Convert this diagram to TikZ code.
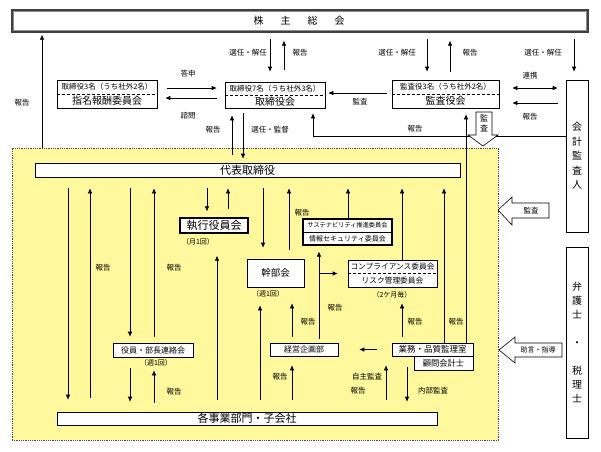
\documentclass[tikz,border=0pt]{standalone}
\usepackage{fontspec}
\newfontfamily\cjk{Noto Sans CJK JP}
\usetikzlibrary{arrows.meta,calc}
\definecolor{yelbg}{RGB}{255,248,156}
\newcommand\fs[2][0]{\cjk\fontsize{#2}{#2}\selectfont}
\begin{document}
\begin{tikzpicture}[x=1pt,y=-1pt,
  every node/.style={inner sep=0pt, font=\fs{7.5}},
  box/.style={draw, fill=white, line width=0.6pt, inner sep=0pt},
  arr/.style={line width=0.6pt, -{Latex[length=5pt,width=4.5pt]}},
  dbl/.style={line width=0.6pt, {Latex[length=5pt,width=4.5pt]}-{Latex[length=5pt,width=4.5pt]}},
  ln/.style={line width=0.6pt},
  sep/.style={line width=0.5pt, densely dashed},
  lbl/.style={font=\fs{7.5}},
  blockarr/.style={draw, fill=white, line width=0.6pt}
]
\useasboundingbox (0,0) rectangle (601,451);

% shareholders meeting
\node[minimum width=576pt, minimum height=22pt, draw=black!75, line width=1.3pt, fill=white] (sokai) at (300,21) {};
\draw[black!45, line width=0.4pt] ([shift={(2.2pt,-2.2pt)}]sokai.north west) rectangle ([shift={(-2.2pt,2.2pt)}]sokai.south east);
\node[font=\fs{10}] (sokaiT) at (299,21) {株\hspace{17pt}主\hspace{17pt}総\hspace{17pt}会};

% yellow area
\node[draw=black!70, densely dotted, line width=0.8pt, fill=yelbg, minimum width=486pt, minimum height=292pt] (area) at (255,294) {};

% top boxes
\node[box, minimum width=100pt, minimum height=28pt] (shimei) at (107,94) {};
\draw[sep] (shimei.west) -- (shimei.east);
\node (shimeiU) at ([yshift=7pt]shimei.center) {取締役3名（うち社外2名）};
\node[font=\fs{10}] (shimeiL) at ([yshift=-7pt]shimei.center) {指名報酬委員会};

\node[box, minimum width=100pt, minimum height=26pt] (tori) at (275,95) {};
\draw[sep] (tori.west) -- (tori.east);
\node (toriU) at ([yshift=6.5pt]tori.center) {取締役7名（うち社外3名）};
\node[font=\fs{10}] (toriL) at ([yshift=-6.5pt]tori.center) {取締役会};

\node[box, minimum width=107pt, minimum height=28pt] (kansa) at (445.5,94) {};
\draw[sep] (kansa.west) -- (kansa.east);
\node (kansaU) at ([yshift=7pt]kansa.center) {監査役3名（うち社外2名）};
\node[font=\fs{10}] (kansaL) at ([yshift=-7pt]kansa.center) {監査役会};

\node[box, minimum width=22pt, minimum height=152pt, align=center, font=\cjk\fontsize{10}{14.5}\selectfont] (kaikei) at (577,156) {会\\計\\監\\査\\人};
\node[box, minimum width=22pt, minimum height=191pt, align=center, font=\cjk\fontsize{10}{14}\selectfont] (bengo) at (577,342.5) {弁\\護\\士\\[14pt]・\\[14pt]税\\理\\士};

% inner boxes
\node[box, minimum width=425pt, minimum height=14pt, font=\fs{11}] (daihyo) at (247.5,170) {代表取締役};
\node[box, line width=1.3pt, minimum width=68pt, minimum height=15pt, font=\fs{11}] (shikko) at (214,225.5) {執行役員会};
\node[font=\fs{7}] (shikkoF) at (198,242) {（月1回）};
\node[box, minimum width=57pt, minimum height=28pt, font=\fs{9.5}] (kanbu) at (275.5,273) {幹部会};
\node[font=\fs{7}] (kanbuF) at (268,294) {（週1回）};

\node[box, line width=1.2pt, minimum width=89pt, minimum height=26pt] (sus) at (347.5,232) {};
\draw[ln] (sus.west) -- (sus.east);
\node[font=\fs{6.2}] (susU) at ([yshift=6.5pt]sus.center) {サステナビリティ推進委員会};
\node[font=\fs{7}] (susL) at ([yshift=-6.5pt]sus.center) {情報セキュリティ委員会};

\node[box, minimum width=89pt, minimum height=27pt] (comp) at (392.5,273.5) {};
\draw[sep] (comp.west) -- (comp.east);
\node[font=\fs{7.7}] (compU) at ([yshift=6.7pt]comp.center) {コンプライアンス委員会};
\node[font=\fs{7.7}] (compL) at ([yshift=-6.7pt]comp.center) {リスク管理委員会};
\node[font=\fs{7}] (compF) at (392,295) {（2ケ月毎）};

\node[box, minimum width=80pt, minimum height=14pt, font=\fs{8}] (yakuin) at (153,350) {役員・部長連絡会};
\node[font=\fs{7}] (yakuinF) at (156,363) {（週1回）};
\node[box, minimum width=68pt, minimum height=13pt, font=\fs{8}] (keiei) at (304,349.5) {経営企画部};
\node[box, minimum width=81pt, minimum height=13pt, font=\fs{8.5}] (gyomu) at (432.5,349.5) {業務・品質監理室};
\node[box, minimum width=59pt, minimum height=14pt, font=\fs{8.3}] (komon) at (443.5,363) {顧問会計士};
\node[box, minimum width=380pt, minimum height=13pt, font=\fs{11}] (kaku) at (247,418.5) {各事業部門・子会社};

% ---- top connectors
\draw[arr, shorten >=2pt] (area.north -| 42,0) -- (sokai.south -| 42,0);
\draw[arr, shorten <=10pt, shorten >=8pt] (shimei.east |- 0,88) -- (tori.west |- 0,88);
\draw[arr, shorten <=8pt, shorten >=8pt] (tori.west |- 0,98) -- (shimei.east |- 0,98);
\draw[arr, shorten <=6pt, shorten >=10pt] (sokai.south -| 270,0) -- (tori.north -| 270,0);
\draw[arr, shorten <=12pt, shorten >=8pt] (tori.north -| 284,0) -- (sokai.south -| 284,0);
\draw[arr, shorten <=6pt, shorten >=8pt] (sokai.south -| 427,0) -- (kansa.north -| 427,0);
\draw[arr, shorten <=8pt, shorten >=8pt] (kansa.north -| 450,0) -- (sokai.south -| 450,0);
\draw[arr, shorten <=6pt, shorten >=8pt] (sokai.south -| 574,0) -- (kaikei.north -| 574,0);
\draw[dbl, shorten <=13pt, shorten >=8pt] (kansa.east |- 0,88) -- (kaikei.west |- 0,88);
\draw[arr, shorten <=8pt, shorten >=13pt] (kaikei.west |- 0,103) -- (kansa.east |- 0,103);
\draw[arr, shorten <=5pt, shorten >=3pt] (kansa.west |- 0,93) -- (tori.east |- 0,93);
\draw[arr, shorten >=5pt] (kaikei.west |- 0,136) -| (tori.south -| 313,0);
\draw[arr, shorten <=8pt, shorten >=7pt] (daihyo.north -| 232,0) -- (tori.south -| 232,0);
\draw[arr, shorten <=5pt, shorten >=4pt] (tori.south -| 243,0) -- (daihyo.north -| 243,0);

% block arrows
\draw[blockarr] (476,112) -- (492,112) -- (492,135) -- (498,135) -- (483,146) -- (468,135) -- (476,135) -- cycle;
\node[align=center, font=\cjk\fontsize{8}{10}\selectfont] (kansaB) at (484,123) {監\\査};

% ---- inner connectors
\draw[arr, shorten <=11pt, shorten >=12pt] (daihyo.south -| 68,0) -- (kaku.north -| 68,0);
\draw[arr, shorten <=14pt, shorten >=11pt] (kaku.north -| 90,0) -- (daihyo.south -| 90,0);
\draw[arr, shorten <=11pt, shorten >=6pt] (daihyo.south -| 130,0) -- (yakuin.north -| 130,0);
\draw[arr, shorten <=6pt, shorten >=11pt] (yakuin.north -| 154,0) -- (daihyo.south -| 154,0);
\draw[arr, shorten <=11pt, shorten >=10pt] (yakuin.south -| 130,0) -- (kaku.north -| 130,0);
\draw[arr, shorten <=9pt, shorten >=13pt] (kaku.north -| 154,0) -- (yakuin.south -| 154,0);
\draw[arr, shorten <=11pt, shorten >=6pt] (daihyo.south -| 207,0) -- (shikko.north -| 207,0);
\draw[arr, shorten <=8pt, shorten >=11pt] (shikko.north -| 228,0) -- (daihyo.south -| 228,0);
\draw[arr, shorten <=12pt, shorten >=22pt] (kaku.north -| 217,0) -- (shikko.south -| 217,0);
\draw[arr, shorten <=11pt, shorten >=11pt] (daihyo.south -| 263,0) -- (kanbu.north -| 263,0);
\draw[arr, shorten <=9pt, shorten >=11pt] (kanbu.north -| 289,0) -- (daihyo.south -| 289,0);
\draw[arr, shorten <=12pt, shorten >=18pt] (kaku.north -| 260,0) -- (kanbu.south -| 260,0);
\draw[arr, shorten <=6pt, shorten >=16pt] (keiei.north -| 292,0) -- (kanbu.south -| 292,0);
\draw[arr, shorten <=12pt, shorten >=9pt] (kaku.north -| 292,0) -- (keiei.south -| 292,0);
\draw[arr, shorten <=4pt, shorten >=6pt] (keiei.north -| 319,0) -- (sus.south -| 319,0);
\draw[arr, shorten >=10pt] (comp.west -| 319,0) -- (comp.west);
\draw[arr, shorten >=11pt] (sus.north -| 348,0) -- (daihyo.south -| 348,0);
\draw[arr, shorten >=11pt] (comp.north -| 402,0) -- (daihyo.south -| 402,0);
\draw[arr, shorten <=6pt, shorten >=16pt] (gyomu.north -| 402,0) -- (comp.south -| 402,0);
\draw[arr, shorten >=11pt] (gyomu.north -| 444,0) -- (daihyo.south -| 444,0);
\draw[arr, shorten >=6pt] (gyomu.north -| 466,0) -- (kansa.south -| 466,0);
\draw[arr, shorten <=15pt, shorten >=21pt] (gyomu.west) -- (keiei.east);
\draw[arr, shorten <=12pt, shorten >=9pt] (kaku.north -| 386,0) -- (gyomu.south -| 386,0);
\draw[arr, shorten <=11pt, shorten >=10pt] (gyomu.south -| 407,0) -- (kaku.north -| 407,0);

% side block arrows
\draw[blockarr] (498,210) -- (512,197) -- (512,203) -- (549,203) -- (549,218) -- (512,218) -- (512,225) -- cycle;
\node[font=\fs{7.5}] (kansaB2) at (531,210.5) {監査};
\draw[blockarr] (499,350) -- (515,337) -- (515,343) -- (562,343) -- (562,357) -- (515,357) -- (515,363) -- cycle;
\node[font=\fs{7}] (jogen) at (538,350) {助言・指導};

% labels
\node[lbl] (l1) at (22,103) {報告};
\node[lbl] (l2) at (188,74) {答申};
\node[lbl] (l3) at (188,116) {諮問};
\node[lbl] (l4) at (248,53) {選任・解任};
\node[lbl] (l5) at (300,53) {報告};
\node[lbl] (l6) at (397,53) {選任・解任};
\node[lbl] (l7) at (470,53) {報告};
\node[lbl] (l8) at (543,53) {選任・解任};
\node[lbl] (l9) at (530,76) {連携};
\node[lbl] (l10) at (530,117) {報告};
\node[lbl] (l11) at (360,102) {監査};
\node[lbl] (l12) at (213,130) {報告};
\node[lbl] (l13) at (270,130) {選任・監督};
\node[lbl] (l14) at (415,129) {報告};
\node[lbl] (l15) at (103,268) {報告};
\node[lbl] (l16) at (174,268) {報告};
\node[lbl] (l17) at (302,213) {報告};
\node[lbl] (l18) at (174,392) {報告};
\node[lbl] (l19) at (280,377) {報告};
\node[lbl] (l20) at (335,308) {報告};
\node[lbl] (l21) at (308,322) {報告};
\node[lbl] (l22) at (415,322) {報告};
\node[lbl] (l23) at (456,322) {報告};
\node[lbl] (l24) at (367,377) {自主監査};
\node[lbl] (l25) at (358,391) {報告};
\node[lbl] (l26) at (433,391) {内部監査};
\end{tikzpicture}
\end{document}
